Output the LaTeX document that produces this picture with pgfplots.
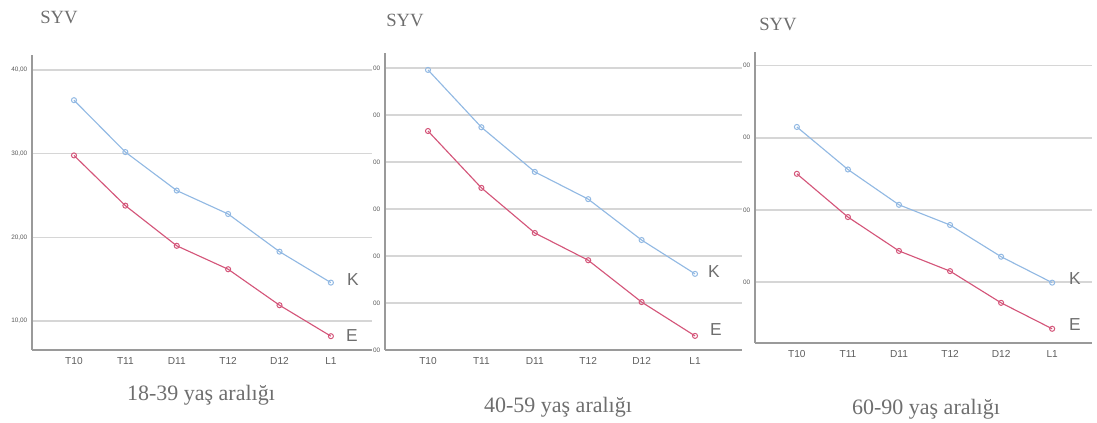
\documentclass[border=0pt]{standalone}
\usepackage{fontspec}
\setmainfont{Liberation Serif}
\newfontfamily\sans{Liberation Sans}
\usepackage{pgfplots}
\pgfplotsset{compat=1.18}
\definecolor{kblue}{HTML}{92B9E3}
\definecolor{ered}{HTML}{D4567A}
\definecolor{gridc}{HTML}{D6D6D6}
\definecolor{axc}{HTML}{9A9A9A}
\definecolor{txt}{HTML}{6E6E6E}
\pgfplotsset{spss/.style={
  scale only axis, anchor=south west, clip=false,
  axis x line*=bottom, axis y line*=left,
  axis line style={-, axc, line width=1pt},
  ymajorgrids, grid style={gridc, line width=1.1pt},
  xtick={0,...,5}, xticklabels={T10,T11,D11,T12,D12,L1},
  major tick length=0pt,
  xticklabel style={font=\sans\fontsize{7.6}{8}\selectfont, text=txt!85!black, yshift=-2pt},
  yticklabel style={font=\sans\fontsize{4.8}{5}\selectfont, text=txt!80!black},
  /pgf/number format/assume math mode=true,
  every axis plot/.append style={line width=0.85pt, mark=o, mark size=1.9pt, mark options={line width=0.75pt}}
}}
\begin{document}
\begin{tikzpicture}
\useasboundingbox (0pt,0pt) rectangle (822.75pt,317.25pt);
% Panel 1
\begin{axis}[spss, at={(24pt,54.75pt)}, width=255pt, height=221.25pt,
  xmin=-0.817, xmax=5.80, ymin=6.55, ymax=41.8,
  ytick={10,20,30,40}, yticklabels={{10,00},{20,00},{30,00},{40,00}}]
\addplot[kblue] coordinates {(0,36.4) (1,30.2) (2,25.6) (3,22.8) (4,18.3) (5,14.6)};
\addplot[ered] coordinates {(0,29.8) (1,23.8) (2,19.0) (3,16.2) (4,11.9) (5,8.2)};
\end{axis}
% Panel 2
\begin{axis}[spss, at={(288.75pt,54.75pt)}, width=267.75pt, height=222.75pt,
  xmin=-0.805, xmax=5.88, ymin=0, ymax=63.2,
  ytick={0,10,20,30,40,50,60}, yticklabels={00,00,00,00,00,00,00}]
\addplot[kblue] coordinates {(0,59.6) (1,47.4) (2,37.9) (3,32.1) (4,23.4) (5,16.2)};
\addplot[ered] coordinates {(0,46.6) (1,34.5) (2,24.9) (3,19.1) (4,10.2) (5,3.0)};
\end{axis}
% Panel 3
\begin{axis}[spss, at={(566.25pt,60pt)}, width=252.75pt, height=218.25pt,
  xmin=-0.82, xmax=5.78, ymin=1.53, ymax=41.9,
  ytick={10,20,30,40}, yticklabels={00,00,00,00}]
\addplot[kblue] coordinates {(0,31.5) (1,25.6) (2,20.7) (3,17.9) (4,13.5) (5,9.9)};
\addplot[ered] coordinates {(0,25.0) (1,19.0) (2,14.3) (3,11.5) (4,7.1) (5,3.5)};
\end{axis}
% Titles
\begin{scope}[x=0.75pt, y=0.75pt, every node/.style={text=txt, inner sep=0pt}]
\node[font=\fontsize{14}{16}\selectfont] at (59,406) {SYV};
\node[font=\fontsize{14}{16}\selectfont] at (405,403) {SYV};
\node[font=\fontsize{14}{16}\selectfont] at (778,399) {SYV};
\node[font=\fontsize{16.5}{18}\selectfont] at (201,28) {18-39 yaş aralığı};
\node[font=\fontsize{16.5}{18}\selectfont] at (558,16) {40-59 yaş aralığı};
\node[font=\fontsize{16.5}{18}\selectfont] at (926,14) {60-90 yaş aralığı};
\node[font=\sans\fontsize{13}{14}\selectfont] at (353,143) {K};
\node[font=\sans\fontsize{13}{14}\selectfont] at (352,87) {E};
\node[font=\sans\fontsize{13}{14}\selectfont] at (714,151) {K};
\node[font=\sans\fontsize{13}{14}\selectfont] at (716,93) {E};
\node[font=\sans\fontsize{13}{14}\selectfont] at (1075,144) {K};
\node[font=\sans\fontsize{13}{14}\selectfont] at (1075,98) {E};
\end{scope}
\end{tikzpicture}
\end{document}
